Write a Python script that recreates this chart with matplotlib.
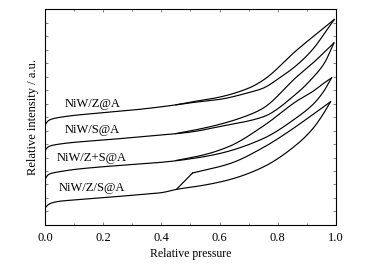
import numpy as np
import matplotlib
matplotlib.use("Agg")
import matplotlib.pyplot as plt
from matplotlib.ticker import MultipleLocator, NullFormatter, FormatStrFormatter

plt.rcParams["font.family"] = ["Liberation Serif", "DejaVu Serif"]

# isotermas (rama de adsorcion y de desorcion), intensidad relativa en u.a.
labels = ["NiW/Z@A", "NiW/S@A", "NiW/Z+S@A", "NiW/Z/S@A"]
label_y = [121, 95, 67, 37]

ads_x_za = [0, 0.01, 0.02, 0.05, 0.1, 0.2, 0.3, 0.4, 0.5, 0.6, 0.7, 0.75, 0.8, 0.865, 0.922, 0.968, 0.994]
ads_y_za = [100, 104, 105.7, 107.7, 109.7, 112.3, 115, 118.3, 122.3, 125.7, 132.5, 137, 146, 160, 176.5, 195, 205.7]
des_x_za = [0.45, 0.5, 0.6, 0.7, 0.75, 0.865, 0.92, 0.994]
des_y_za = [120.3, 123, 128, 137, 145, 175, 188.3, 205.7]

ads_x_sa = [0, 0.01, 0.02, 0.05, 0.1, 0.2, 0.3, 0.4, 0.5, 0.6, 0.75, 0.865, 0.922, 0.96, 0.993]
ads_y_sa = [74.3, 78, 79.3, 81, 82.7, 85, 87.5, 90, 93, 98.5, 108.3, 131.7, 148, 162, 182.3]
des_x_sa = [0.45, 0.5, 0.6, 0.704, 0.75, 0.865, 0.92, 0.993]
des_y_sa = [91.5, 94.2, 100.7, 110.5, 117, 148.3, 162, 182.3]

ads_x_zsa = [0, 0.01, 0.02, 0.05, 0.1, 0.2, 0.3, 0.4, 0.5, 0.6, 0.75, 0.865, 0.922, 0.956, 0.985]
ads_y_zsa = [45.7, 50, 51.5, 53.3, 55.5, 58.3, 60.5, 62.7, 66.2, 71.5, 86.5, 107.5, 121, 133, 147.3]
des_x_zsa = [0.45, 0.55, 0.636, 0.75, 0.865, 0.922, 0.956, 0.985]
des_y_zsa = [64.5, 70.5, 79, 99, 124, 134, 141.5, 147.3]

ads_x_z_s = [0, 0.01, 0.02, 0.05, 0.1, 0.2, 0.3, 0.4, 0.45, 0.55, 0.636, 0.75, 0.865, 0.922, 0.956, 0.981]
ads_y_z_s = [16.7, 20, 21.7, 23.7, 25, 27.3, 29.7, 32.3, 35.5, 40, 45.5, 58, 80.5, 97, 111, 123.3]
# escalon de cierre del lazo (recta) y rama de desorcion
step_x_z_s = [0.452, 0.507]
step_y_z_s = [35.7, 52]
des_x_z_s = [0.507, 0.636, 0.75, 0.865, 0.922, 0.956, 0.981]
des_y_z_s = [52, 61.5, 77.5, 99, 111, 118, 123.3]

curvas = [
    (ads_x_za, ads_y_za, des_x_za, des_y_za),
    (ads_x_sa, ads_y_sa, des_x_sa, des_y_sa),
    (ads_x_zsa, ads_y_zsa, des_x_zsa, des_y_zsa),
    (ads_x_z_s, ads_y_z_s, des_x_z_s, des_y_z_s),
]


def pchip(x, y, n=300):
    # interpolacion monotona (Fritsch-Carlson) solo para dibujar la curva suave
    x = np.asarray(x, float); y = np.asarray(y, float)
    h = np.diff(x); d = np.diff(y) / h
    m = np.zeros_like(y)
    for k in range(1, len(x) - 1):
        if d[k - 1] * d[k] > 0:
            w1 = 2 * h[k] + h[k - 1]; w2 = h[k] + 2 * h[k - 1]
            m[k] = (w1 + w2) / (w1 / d[k - 1] + w2 / d[k])
    m[0] = d[0]; m[-1] = d[-1]
    xn = np.linspace(x[0], x[-1], n)
    i = np.clip(np.searchsorted(x, xn) - 1, 0, len(h) - 1)
    t = (xn - x[i]) / h[i]
    h00 = 2 * t**3 - 3 * t**2 + 1; h10 = t**3 - 2 * t**2 + t
    h01 = -2 * t**3 + 3 * t**2; h11 = t**3 - t**2
    yn = h00 * y[i] + h10 * h[i] * m[i] + h01 * y[i + 1] + h11 * h[i] * m[i + 1]
    return xn, yn


fig = plt.figure(figsize=(3.68, 2.64), dpi=100)
ax = fig.add_axes([0.1223, 0.148, 0.7907, 0.817])

for (axx, axy, dx, dy), lab, ly in zip(curvas, labels, label_y):
    ax.plot(*pchip(axx, axy), color="black", lw=0.85)
    ax.plot(*pchip(dx, dy), color="black", lw=0.85)
    ax.text(0.162, ly, lab, ha="center", va="center", fontsize=9)
ax.plot(step_x_z_s, step_y_z_s, color="black", lw=0.85)

ax.set_xlim(0, 1.0)
ax.set_ylim(0, 216)
ax.xaxis.set_major_locator(MultipleLocator(0.2))
ax.xaxis.set_minor_locator(MultipleLocator(0.1))
ax.yaxis.set_major_locator(MultipleLocator(13.5))
ax.yaxis.set_major_formatter(NullFormatter())
ax.xaxis.set_major_formatter(FormatStrFormatter("%.1f"))
ax.tick_params(which="both", direction="in", top=True, right=True,
               labelsize=9, width=0.5, color="#555555")
ax.tick_params(which="major", length=2.5)
ax.tick_params(which="minor", length=1.5)
ax.tick_params(axis="x", pad=5)
for s in ax.spines.values():
    s.set_linewidth(0.8)

ax.set_xlabel("Relative pressure", fontsize=8.5, labelpad=3)
ax.set_ylabel("Relative intensity / a.u.", fontsize=9, labelpad=1)

fig.savefig("out.png", dpi=100)
